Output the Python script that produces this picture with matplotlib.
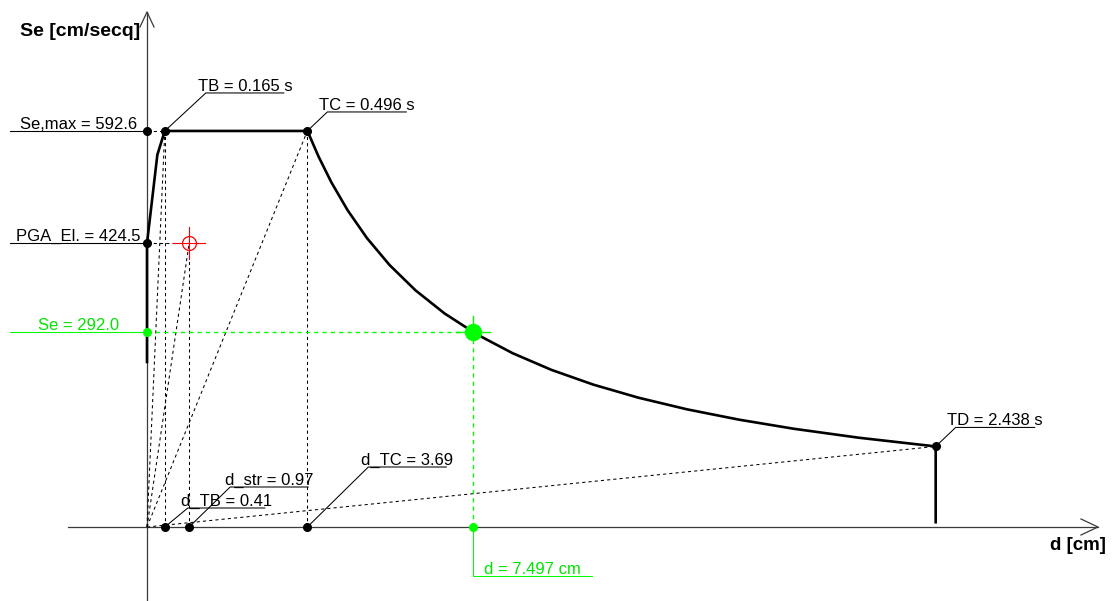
import numpy as np
import matplotlib
matplotlib.use("Agg")
import matplotlib.pyplot as plt

plt.rcParams["font.family"] = ["Liberation Sans", "DejaVu Sans"]

# --- spectrum parameters (cm/s^2, s, cm) ---
SE_MAX = 592.6
PGA_EL = 424.5
SE_START = 247.0
TB, TC, TD = 0.165, 0.496, 2.438

# characteristic displacements (cm)
D_TB = 0.41
D_STR = 0.97
D_TC = 3.69

# performance point
D_PERF = 7.497
SE_PERF = 292.0

# period samples for the branches
periods_rise = [0.0, 0.13, 0.165]
periods_fall = [0.496, 0.53, 0.57, 0.62, 0.68, 0.75, 0.83, 0.92, 1.02, 1.13, 1.25,
                1.38, 1.52, 1.67, 1.83, 2.0, 2.2, 2.438]
periods_tail = [2.438, 3.0, 4.0, 6.0, 8.0, 10.0]

# --- layout (pixels) ---
W, H = 1112, 601
ORIGIN_PX = (147, 527)
PX_PER_CM = 43.45
PX_PER_SE = 0.6683

INK = "black"
AXIS = "#3a3a3a"
GREEN = "#00ff00"
GREEN_TXT = "#00e600"
RED = "#ff0000"
DASH = (0, (3, 3))
FS = 12

fig = plt.figure(figsize=(W / 100, H / 100), dpi=100)
ax = fig.add_axes([0, 0, 1, 1])
ax.set_xlim(-ORIGIN_PX[0] / PX_PER_CM, (W - ORIGIN_PX[0]) / PX_PER_CM)
ax.set_ylim(-(H - ORIGIN_PX[1]) / PX_PER_SE, ORIGIN_PX[1] / PX_PER_SE)
ax.axis("off")


def px(x, y, dx=0.0, dy=0.0):
    """Data point shifted by (dx, dy) screen pixels (dy positive upwards)."""
    X, Y = ax.transData.transform((x, y))
    return ax.transData.inverted().transform((X + dx, Y + dy))


def tag(x, y, text, dx, dy, length, color=INK, tcolor=INK):
    x1, y1 = px(x, y, dx, dy)
    x2, y2 = px(x, y, dx + length, dy)
    ax.plot([x, x1, x2], [y, y1, y2], color=color, lw=0.75, zorder=3)
    xm, ym = px(x, y, dx + length / 2, dy + 2)
    ax.text(xm, ym, text, ha="center", va="baseline", fontsize=FS, color=tcolor, zorder=6)


# --- axes with open arrow heads ---
xa0, _ = px(0, 0, -79, 0)
xa1, _ = px(0, 0, 951, 0)
ax.plot([xa0, xa1], [0, 0], color=AXIS, lw=0.9, zorder=2)
w1 = px(xa1, 0, -17, 8)
w2 = px(xa1, 0, -17, -8)
ax.plot([w1[0], xa1, w2[0]], [w1[1], 0, w2[1]], color=AXIS, lw=0.9, zorder=2)

_, ya0 = px(0, 0, 0, -73)
_, ya1 = px(0, 0, 0, 515)
ax.plot([0, 0], [ya0, ya1], color=AXIS, lw=0.9, zorder=2)
v1 = px(0, ya1, -7, -15)
v2 = px(0, ya1, 7, -15)
ax.plot([v1[0], 0, v2[0]], [v1[1], ya1, v2[1]], color=AXIS, lw=0.9, zorder=2)

fig.text(20 / W, 1 - 36 / H, "Se [cm/secq]", fontsize=14, fontweight="bold",
         ha="left", va="baseline")
fig.text(1106 / W, 1 - 550 / H, "d [cm]", fontsize=13.5, fontweight="bold",
         ha="right", va="baseline")

# --- spectrum in the acceleration-displacement plane ---
T_r = np.array(periods_rise)
se_r = PGA_EL + (SE_MAX - PGA_EL) * T_r / TB
T_f = np.array(periods_fall)
se_f = SE_MAX * TC / T_f
T_t = np.array(periods_tail)
se_t = SE_MAX * TC * TD / T_t ** 2

T_all = np.concatenate([T_r, T_f, T_t])
se_all = np.concatenate([se_r, se_f, se_t])
d_all = se_all * (T_all / (2 * np.pi)) ** 2
d_all = np.concatenate([[0.0], d_all])
se_all = np.concatenate([[SE_START], se_all])
ax.plot(d_all, se_all, color=INK, lw=1.9, zorder=4, solid_joinstyle="round")

se_td = SE_MAX * TC / TD
d_td = se_td * (TD / (2 * np.pi)) ** 2

# --- construction lines ---
kw = dict(color=INK, lw=0.75, ls=DASH, zorder=2)
ax.plot([0, D_TB], [SE_MAX, SE_MAX], **kw)
ax.plot([0, D_STR], [PGA_EL, PGA_EL], **kw)
for dd, ss in [(D_TB, SE_MAX), (D_STR, PGA_EL), (D_TC, SE_MAX), (d_td, se_td)]:
    ax.plot([0, dd], [0, ss], **kw)
for dd, ss in [(D_TB, SE_MAX), (D_STR, PGA_EL), (D_TC, SE_MAX)]:
    ax.plot([dd, dd], [0, ss], **kw)

# elastic structure marker
ax.plot([D_STR], [PGA_EL], marker="o", ms=10, mfc="none", mec=RED, mew=0.9, zorder=5)
h1 = px(D_STR, PGA_EL, -16, 0)
h2 = px(D_STR, PGA_EL, 16, 0)
ax.plot([h1[0], h2[0]], [PGA_EL, PGA_EL], color=RED, lw=0.8, zorder=5)
v1 = px(D_STR, PGA_EL, 0, 16)
v2 = px(D_STR, PGA_EL, 0, -16)
ax.plot([D_STR, D_STR], [v1[1], v2[1]], color=RED, lw=0.8, zorder=5)

# performance point
gkw = dict(color=GREEN, lw=1.0, ls=DASH, zorder=3)
ax.plot([0, D_PERF], [SE_PERF, SE_PERF], **gkw)
ax.plot([D_PERF, D_PERF], [0, SE_PERF], **gkw)
h1 = px(D_PERF, SE_PERF, -17, 0)
h2 = px(D_PERF, SE_PERF, 17, 0)
ax.plot([h1[0], h2[0]], [SE_PERF, SE_PERF], color=GREEN, lw=1.0, zorder=5)
v1 = px(D_PERF, SE_PERF, 0, 16)
ax.plot([D_PERF, D_PERF], [v1[1], SE_PERF], color=GREEN, lw=1.0, zorder=5)
ax.plot([D_PERF], [SE_PERF], "o", color=GREEN, ms=11.5, zorder=6)
ax.plot([0, D_PERF], [SE_PERF, 0], "o", color=GREEN, ms=5.5, ls="none", zorder=6)

# corner points
dots_d = [0, 0, D_TB, D_TC, d_td, D_TB, D_STR, D_TC]
dots_s = [SE_MAX, PGA_EL, SE_MAX, SE_MAX, se_td, 0, 0, 0]
ax.plot(dots_d, dots_s, "o", color=INK, ms=5.5, ls="none", zorder=6)

# --- value labels ---
tag(0, SE_MAX, f"Se,max = {SE_MAX:.1f}", -137, 0, 137)
tag(0, PGA_EL, f"PGA_El. = {PGA_EL:.1f}", -137, 0, 137)
tag(0, SE_PERF, f"Se = {SE_PERF:.1f}", -137, 0, 137, color=GREEN, tcolor=GREEN_TXT)
tag(D_TB, SE_MAX, f"TB = {TB:.3f} s", 41, 38, 78)
tag(D_TC, SE_MAX, f"TC = {TC:.3f} s", 20, 19, 79)
tag(d_td, se_td, f"TD = {TD:.3f} s", 20, 19, 79)
tag(D_TB, 0, f"d_TB = {D_TB:.2f}", 23, 19, 77)
tag(D_STR, 0, f"d_str = {D_STR:.2f}", 41, 40, 78)
tag(D_TC, 0, f"d_TC = {D_TC:.2f}", 61, 60, 78)
tag(D_PERF, 0, f"d = {D_PERF:.3f} cm", 0, -49, 119, color=GREEN, tcolor=GREEN_TXT)

fig.savefig("out.png", dpi=100, facecolor="white")
